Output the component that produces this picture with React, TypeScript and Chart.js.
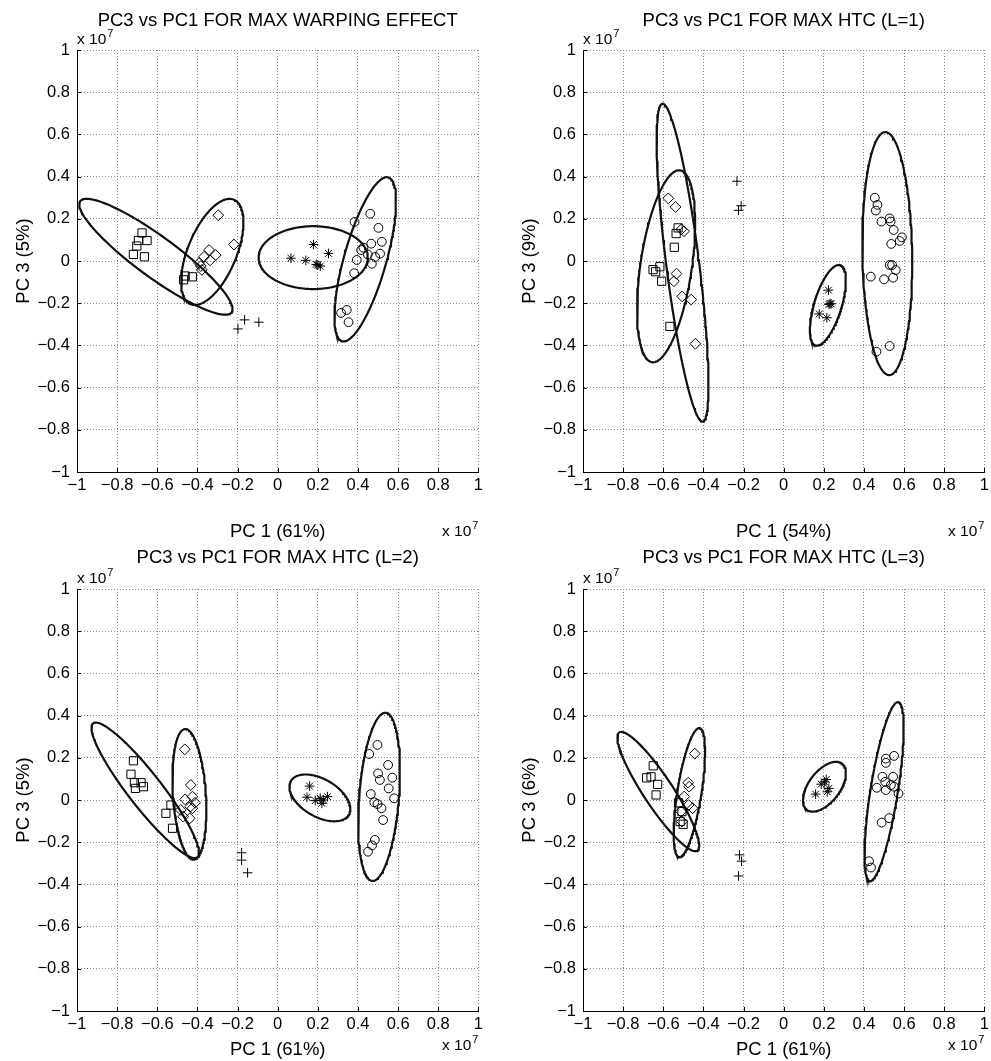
import React, { useEffect, useRef } from "react";
import { Chart, registerables } from "chart.js";
Chart.register(...registerables);

type Pt = [number, number];
type Ell = [number, number, number, number, number]; // cx, cy, semi-major, semi-minor, angle (deg)

const FONT = '"Liberation Sans", Arial, Helvetica, sans-serif';

const tickValues = [-1, -0.8, -0.6, -0.4, -0.2, 0, 0.2, 0.4, 0.6, 0.8, 1];
const tickLabels = ["\u22121", "\u22120.8", "\u22120.6", "\u22120.4", "\u22120.2", "0", "0.2", "0.4", "0.6", "0.8", "1"];

const titles = [
  "PC3 vs PC1 FOR MAX WARPING EFFECT",
  "PC3 vs PC1 FOR MAX HTC (L=1)",
  "PC3 vs PC1 FOR MAX HTC (L=2)",
  "PC3 vs PC1 FOR MAX HTC (L=3)",
];
const xLabels = ["PC 1 (61%)", "PC 1 (54%)", "PC 1 (61%)", "PC 1 (61%)"];
const yLabels = ["PC 3 (5%)", "PC 3 (9%)", "PC 3 (5%)", "PC 3 (6%)"];

// ---- Panel 1: max warping effect (units of 1e7)
const warpSquares: Pt[] = [[-0.676, 0.133], [-0.694, 0.097], [-0.651, 0.097], [-0.702, 0.071], [-0.719, 0.031], [-0.664, 0.020], [-0.461, -0.071], [-0.425, -0.075], [-0.469, -0.089]];
const warpDiamonds: Pt[] = [[-0.296, 0.217], [-0.218, 0.078], [-0.342, 0.052], [-0.367, 0.020], [-0.309, 0.028], [-0.337, 0.003], [-0.383, -0.024], [-0.378, -0.042], [-0.392, -0.010]];
const warpPlus: Pt[] = [[-0.198, -0.322], [-0.165, -0.279], [-0.094, -0.290]];
const warpStars: Pt[] = [[0.066, 0.013], [0.140, 0.003], [0.178, 0.078], [0.253, 0.036], [0.192, -0.016], [0.212, -0.024], [0.200, -0.019]];
const warpCircles: Pt[] = [[0.461, 0.224], [0.502, 0.157], [0.383, 0.185], [0.519, 0.091], [0.466, 0.082], [0.427, 0.063], [0.416, 0.052], [0.449, 0.031], [0.486, 0.019], [0.510, 0.035], [0.394, 0.005], [0.469, -0.013], [0.381, -0.058], [0.344, -0.232], [0.316, -0.246], [0.353, -0.290]];
const warpEllipses: Ell[] = [[-0.607, 0.02, 0.46, 0.098, -34.8], [-0.326, 0.043, 0.27, 0.12, 66], [0.177, 0.016, 0.272, 0.149, 0], [0.436, 0.008, 0.405, 0.105, 73.4]];

// ---- Panel 2: max HTC (L=1)
const l1Squares: Pt[] = [[-0.526, 0.157], [-0.536, 0.130], [-0.545, 0.065], [-0.651, -0.041], [-0.638, -0.051], [-0.617, -0.027], [-0.608, -0.096], [-0.567, -0.310]];
const l1Diamonds: Pt[] = [[-0.575, 0.297], [-0.539, 0.256], [-0.497, 0.141], [-0.510, 0.150], [-0.534, -0.060], [-0.547, -0.096], [-0.506, -0.168], [-0.461, -0.183], [-0.440, -0.392]];
const l1Plus: Pt[] = [[-0.233, 0.378], [-0.212, 0.262], [-0.225, 0.240]];
const l1Stars: Pt[] = [[0.223, -0.138], [0.231, -0.201], [0.226, -0.206], [0.236, -0.203], [0.177, -0.251], [0.215, -0.269]];
const l1Circles: Pt[] = [[0.454, 0.300], [0.467, 0.266], [0.459, 0.239], [0.487, 0.187], [0.528, 0.202], [0.533, 0.187], [0.548, 0.147], [0.589, 0.112], [0.578, 0.095], [0.536, 0.081], [0.528, -0.019], [0.540, -0.019], [0.558, -0.043], [0.545, -0.079], [0.500, -0.087], [0.434, -0.074], [0.528, -0.403], [0.462, -0.430]];
const l1Ellipses: Ell[] = [[-0.504, -0.008, 0.76, 0.082, -82.4], [-0.586, -0.025, 0.46, 0.128, 81.2], [0.22, -0.21, 0.20, 0.068, 71.9], [0.516, 0.035, 0.576, 0.124, 91]];

// ---- Panel 3: max HTC (L=2)
const l2Squares: Pt[] = [[-0.719, 0.186], [-0.731, 0.122], [-0.714, 0.082], [-0.681, 0.082], [-0.709, 0.055], [-0.669, 0.063], [-0.532, -0.024], [-0.557, -0.063], [-0.524, -0.134]];
const l2Diamonds: Pt[] = [[-0.463, 0.240], [-0.433, 0.071], [-0.425, 0.016], [-0.461, 0.003], [-0.412, -0.013], [-0.436, -0.032], [-0.483, -0.047], [-0.425, -0.039], [-0.471, -0.079], [-0.438, -0.087]];
const l2Plus: Pt[] = [[-0.18, -0.25], [-0.18, -0.285], [-0.15, -0.345]];
const l2Stars: Pt[] = [[0.159, 0.066], [0.146, 0.013], [0.187, -0.003], [0.212, 0.008], [0.220, -0.016], [0.248, 0.016], [0.228, 0.000]];
const l2Circles: Pt[] = [[0.497, 0.261], [0.456, 0.218], [0.550, 0.166], [0.500, 0.126], [0.509, 0.095], [0.571, 0.106], [0.553, 0.055], [0.464, 0.028], [0.580, 0.008], [0.481, -0.011], [0.497, -0.019], [0.517, -0.039], [0.525, -0.095], [0.484, -0.189], [0.470, -0.215], [0.450, -0.245]];
const l2Ellipses: Ell[] = [[-0.66, 0.046, 0.41, 0.082, -50.6], [-0.44, 0.027, 0.31, 0.082, 94], [0.21, 0.01, 0.165, 0.09, -28], [0.505, 0.015, 0.40, 0.099, 85.2]];

// ---- Panel 4: max HTC (L=3)
const l3Squares: Pt[] = [[-0.650, 0.162], [-0.661, 0.110], [-0.683, 0.105], [-0.628, 0.074], [-0.636, 0.024], [-0.524, -0.013], [-0.507, -0.055], [-0.501, -0.115], [-0.516, -0.102]];
const l3Diamonds: Pt[] = [[-0.443, 0.220], [-0.476, 0.082], [-0.471, 0.063], [-0.496, 0.016], [-0.474, -0.024], [-0.454, -0.039], [-0.512, -0.055], [-0.507, -0.102]];
const l3Plus: Pt[] = [[-0.22, -0.26], [-0.21, -0.29], [-0.225, -0.36]];
const l3Stars: Pt[] = [[0.212, 0.097], [0.187, 0.075], [0.225, 0.055], [0.217, 0.039], [0.159, 0.028], [0.203, 0.086]];
const l3Circles: Pt[] = [[0.509, 0.196], [0.550, 0.209], [0.509, 0.176], [0.492, 0.110], [0.545, 0.110], [0.506, 0.086], [0.534, 0.071], [0.464, 0.058], [0.509, 0.047], [0.550, 0.063], [0.572, 0.031], [0.526, -0.086], [0.488, -0.107], [0.425, -0.290], [0.435, -0.320]];
const l3Ellipses: Ell[] = [[-0.625, 0.04, 0.341, 0.072, -55.1], [-0.47, 0.035, 0.31, 0.06, 80.5], [0.203, 0.063, 0.14, 0.076, 50.2], [0.50, 0.04, 0.43, 0.068, 80.5]];

const markerStyles = [
  { pointStyle: "rect", radius: 5.8 },
  { pointStyle: "rectRot", radius: 5.4 },
  { pointStyle: "cross", radius: 4.8 },
  { pointStyle: "star", radius: 4.8 },
  { pointStyle: "circle", radius: 4.4 },
];

type PanelDef = {
  idx: number;
  groups: Pt[][];
  ellipses: Ell[];
  left: number;
  top: number;
  w: number;
  h: number;
  titleY: number;
  expY: number;
  xTitlePad: number;
};

const panels: PanelDef[] = [
  { idx: 0, groups: [warpSquares, warpDiamonds, warpPlus, warpStars, warpCircles], ellipses: warpEllipses, left: 0, top: 0, w: 487, h: 545, titleY: 21, expY: 536, xTitlePad: 2 },
  { idx: 1, groups: [l1Squares, l1Diamonds, l1Plus, l1Stars, l1Circles], ellipses: l1Ellipses, left: 506, top: 0, w: 487, h: 545, titleY: 21, expY: 536, xTitlePad: 2 },
  { idx: 2, groups: [l2Squares, l2Diamonds, l2Plus, l2Stars, l2Circles], ellipses: l2Ellipses, left: 0, top: 539, w: 487, h: 522, titleY: 19, expY: 511, xTitlePad: 0 },
  { idx: 3, groups: [l3Squares, l3Diamonds, l3Plus, l3Stars, l3Circles], ellipses: l3Ellipses, left: 506, top: 539, w: 487, h: 522, titleY: 19, expY: 511, xTitlePad: 0 },
];

function ellipseOutline(e: Ell) {
  const [cx, cy, a, b, deg] = e;
  const th = (deg * Math.PI) / 180;
  const pts: { x: number; y: number }[] = [];
  const n = 160;
  for (let i = 0; i <= n; i++) {
    const t = (i / n) * 2 * Math.PI;
    pts.push({
      x: cx + a * Math.cos(th) * Math.cos(t) - b * Math.sin(th) * Math.sin(t),
      y: cy + a * Math.sin(th) * Math.cos(t) + b * Math.cos(th) * Math.sin(t),
    });
  }
  return pts;
}

function drawExponent(ctx: CanvasRenderingContext2D, x: number, y: number, align: "left" | "right") {
  ctx.textBaseline = "alphabetic";
  ctx.textAlign = "left";
  ctx.font = `15.5px ${FONT}`;
  const base = "x 10";
  const w1 = ctx.measureText(base).width;
  ctx.font = `11px ${FONT}`;
  const w2 = ctx.measureText("7").width;
  const x0 = align === "left" ? x : x - w1 - w2 - 1;
  ctx.font = `15.5px ${FONT}`;
  ctx.fillText(base, x0, y);
  ctx.font = `11px ${FONT}`;
  ctx.fillText("7", x0 + w1 + 1, y - 7);
}

function Panel({ p }: { p: PanelDef }) {
  const ref = useRef<HTMLCanvasElement>(null);
  useEffect(() => {
    if (!ref.current) return;
    const datasets: any[] = [];
    p.groups.forEach((g, i) => {
      const m = markerStyles[i];
      datasets.push({
        data: g.map(([x, y]) => ({ x, y })),
        pointStyle: m.pointStyle,
        pointRadius: m.radius,
        pointHoverRadius: m.radius,
        pointBorderColor: "#000",
        pointBackgroundColor: "rgba(0,0,0,0)",
        pointBorderWidth: 1,
        showLine: false,
      });
    });
    p.ellipses.forEach((e) => {
      datasets.push({
        data: ellipseOutline(e),
        showLine: true,
        borderColor: "#111",
        borderWidth: 2.2,
        pointRadius: 0,
        pointHoverRadius: 0,
        fill: false,
        tension: 0,
      });
    });

    const decor = {
      id: "decor" + p.idx,
      afterDraw(chart: any) {
        const { ctx, chartArea: ca, scales } = chart;
        const xs = scales.x;
        const ys = scales.y;
        ctx.save();
        ctx.strokeStyle = "#000";
        ctx.lineWidth = 1;
        tickValues.forEach((v) => {
          const px = Math.round(xs.getPixelForValue(v)) + 0.5;
          ctx.beginPath();
          ctx.moveTo(px, ca.bottom);
          ctx.lineTo(px, ca.bottom - 4);
          ctx.stroke();
          const py = Math.round(ys.getPixelForValue(v)) + 0.5;
          ctx.beginPath();
          ctx.moveTo(ca.left, py);
          ctx.lineTo(ca.left + 4, py);
          ctx.stroke();
        });
        ctx.fillStyle = "#000";
        ctx.font = `18.5px ${FONT}`;
        ctx.textAlign = "center";
        ctx.textBaseline = "middle";
        ctx.fillText(titles[p.idx], (ca.left + ca.right) / 2, p.titleY);
        drawExponent(ctx, ca.left, ca.top - 6, "left");
        drawExponent(ctx, ca.right, p.expY, "right");
        ctx.restore();
      },
    };

    const setTicks = (s: any) => {
      s.ticks = tickValues.map((v) => ({ value: v }));
    };

    const chart = new Chart(ref.current, {
      type: "scatter",
      data: { datasets },
      plugins: [decor],
      options: {
        responsive: false,
        animation: false,
        events: [],
        layout: { padding: { top: 50, right: p.w - 481, bottom: 0, left: 0 } },
        plugins: { legend: { display: false }, tooltip: { enabled: false }, title: { display: false } },
        scales: {
          x: {
            type: "linear",
            min: -1,
            max: 1,
            afterBuildTicks: setTicks,
            afterFit: (s: any) => {
              s.height = p.h - 472;
            },
            ticks: {
              color: "#000",
              font: { family: FONT, size: 16.5 },
              padding: 4,
              maxRotation: 0,
              autoSkip: false,
              callback: (_v: any, i: number) => tickLabels[i],
            },
            grid: { color: "#8a8a8a", lineWidth: 1, drawTicks: false },
            border: { display: true, color: "#000", width: 1, dash: [1, 2] },
            title: {
              display: true,
              text: xLabels[p.idx],
              color: "#000",
              font: { family: FONT, size: 18.5 },
              padding: { top: 0, bottom: p.xTitlePad },
            },
          },
          y: {
            type: "linear",
            min: -1,
            max: 1,
            afterBuildTicks: setTicks,
            afterFit: (s: any) => {
              s.width = 77;
            },
            ticks: {
              color: "#000",
              font: { family: FONT, size: 16.5 },
              padding: 7,
              autoSkip: false,
              callback: (_v: any, i: number) => tickLabels[i],
            },
            grid: { color: "#8a8a8a", lineWidth: 1, drawTicks: false },
            border: { display: true, color: "#000", width: 1, dash: [1, 2] },
            title: {
              display: true,
              text: yLabels[p.idx],
              color: "#000",
              font: { family: FONT, size: 18.5 },
              padding: { top: 13, bottom: 0 },
            },
          },
        },
      } as any,
    });
    return () => chart.destroy();
  }, [p]);

  return (
    <canvas
      ref={ref}
      width={p.w}
      height={p.h}
      style={{ position: "absolute", left: p.left, top: p.top, width: p.w, height: p.h }}
    />
  );
}

export default function App() {
  return (
    <div
      style={{
        position: "absolute",
        left: 0,
        top: 0,
        width: 991,
        height: 1061,
        background: "#fff",
        overflow: "hidden",
      }}
    >
      {panels.map((p) => (
        <Panel key={p.idx} p={p} />
      ))}
    </div>
  );
}
